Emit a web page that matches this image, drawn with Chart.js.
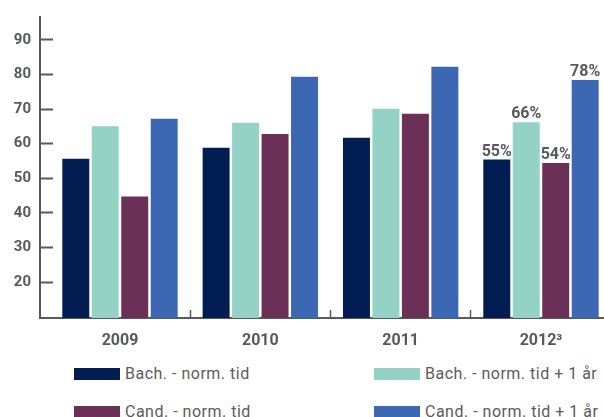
<!DOCTYPE html>
<html>
<head>
<meta charset="utf-8">
<script src="https://cdn.jsdelivr.net/npm/chart.js@4.4.1/dist/chart.umd.min.js"></script>
<style>
  html, body { margin: 0; padding: 0; width: 604px; height: 417px; overflow: hidden; background: #fff; }
  #wrap { position: relative; width: 604px; height: 417px; }
  #c { position: absolute; left: 0; top: 0; }
  .lg { position: absolute; white-space: nowrap; color: #5a5b5d; line-height: 16px; height: 16px; letter-spacing: 0.5px; }
  .lg span.box { position: absolute; left: 0; top: 2px; width: 46px; height: 12px; }
  .lg span.txt { position: absolute; left: 51px; top: 0; }
</style>
</head>
<body>
<div id="wrap">
  <canvas id="c" width="604" height="360"></canvas>
  <div id="legend"></div>
</div>
<script>
// ---- data ----
const categories = ['2009', '2010', '2011', '2012³'];
const bachNorm   = [55.6, 58.8, 61.7, 55.4];
const bachNorm1  = [65.0, 66.0, 70.1, 66.2];
const candNorm   = [44.7, 62.8, 68.6, 54.4];
const candNorm1  = [67.2, 79.3, 82.2, 78.4];
const seriesNames = ['Bach. - norm. tid', 'Bach. - norm. tid + 1 år', 'Cand. - norm. tid', 'Cand. - norm. tid + 1 år'];
const yTickValues = [20, 30, 40, 50, 60, 70, 80, 90];
const labelledCategory = 3;

const FONT = "Roboto, 'Liberation Sans', sans-serif";
const GRAY = '#58595b';
const colors = ['#011d52', '#93d2c5', '#6a3058', '#3c67b2'];
const seriesValues = [bachNorm, bachNorm1, candNorm, candNorm1];

const valueLabels = {
  id: 'valueLabels',
  afterDatasetsDraw(chart) {
    const ctx = chart.ctx;
    ctx.save();
    ctx.font = `bold 16px ${FONT}`;
    ctx.fillStyle = GRAY;
    ctx.textAlign = 'center';
    ctx.textBaseline = 'alphabetic';
    chart.data.datasets.forEach((ds, i) => {
      const el = chart.getDatasetMeta(i).data[labelledCategory];
      const v = ds.data[labelledCategory].y;
      ctx.fillText(Math.round(v) + '%', el.x, el.y - 4);
    });
    ctx.restore();
  }
};

const zeroPad = (s) => { s.paddingTop = 0; s.paddingBottom = 0; s.paddingLeft = 0; s.paddingRight = 0; };

const chart = new Chart(document.getElementById('c'), {
  type: 'bar',
  data: {
    datasets: seriesValues.map((vals, i) => ({
      label: seriesNames[i],
      data: vals.map((v, j) => ({ x: j, y: v })),
      backgroundColor: colors[i],
      borderWidth: 0,
      categoryPercentage: 0.84,
      barPercentage: 0.915
    }))
  },
  options: {
    responsive: false,
    animation: false,
    layout: { padding: { top: 17, left: 0, right: 0, bottom: 0 } },
    plugins: { legend: { display: false }, tooltip: { enabled: false } },
    scales: {
      x: {
        type: 'linear',
        offset: false,
        bounds: 'data',
        min: -0.57,
        max: 3.449,
        afterBuildTicks: (s) => { s.ticks = categories.map((_, i) => ({ value: i })); },
        afterFit: (s) => { s.height = 42; zeroPad(s); },
        ticks: {
          padding: 21,
          color: GRAY,
          font: { family: FONT, size: 16, weight: 'bold' },
          callback: (v) => categories[v],
          maxRotation: 0,
          autoSkip: false
        },
        grid: {
          offset: true,
          drawOnChartArea: false,
          tickLength: -8,
          tickWidth: 1.5,
          tickColor: (ctx) => ctx.index === 0 ? 'rgba(0,0,0,0)' : GRAY
        },
        border: { display: true, color: GRAY, width: 2 }
      },
      y: {
        bounds: 'data',
        min: 9.6,
        max: 96.6,
        afterBuildTicks: (s) => { s.ticks = yTickValues.map(v => ({ value: v })); },
        afterFit: (s) => { s.width = 40; zeroPad(s); },
        ticks: {
          padding: 22,
          color: GRAY,
          font: { family: FONT, size: 15, weight: 'bold' }
        },
        grid: {
          drawOnChartArea: false,
          tickLength: -13,
          tickWidth: 2,
          tickColor: GRAY
        },
        border: { display: true, color: GRAY, width: 2 }
      }
    }
  },
  plugins: [valueLabels]
});

// ---- HTML legend built from datasets ----
(function(){
  const pos = [[74, 366], [374, 366], [74, 404], [374, 404]];
  const lg = document.getElementById('legend');
  chart.data.datasets.forEach((ds, i) => {
    const d = document.createElement('div');
    d.className = 'lg';
    d.style.left = pos[i][0] + 'px';
    d.style.top = pos[i][1] + 'px';
    d.style.font = `16px ${FONT}`;
    d.style.lineHeight = '16px';
    const b = document.createElement('span');
    b.className = 'box';
    b.style.background = ds.backgroundColor;
    const t = document.createElement('span');
    t.className = 'txt';
    t.textContent = ds.label;
    d.appendChild(b); d.appendChild(t);
    lg.appendChild(d);
  });
})();
</script>
</body>
</html>
